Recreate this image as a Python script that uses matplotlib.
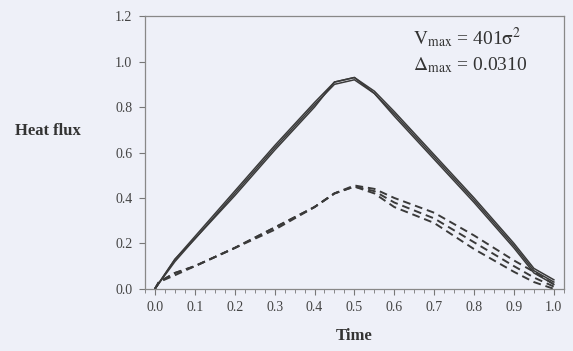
import matplotlib
matplotlib.use("Agg")
import matplotlib.pyplot as plt
from matplotlib.ticker import MultipleLocator, FormatStrFormatter

# time points
t = [0.0, 0.05, 0.1, 0.2, 0.3, 0.4, 0.45, 0.5, 0.55, 0.6, 0.7, 0.8, 0.9, 0.95, 1.0]

# solid curves (three runs, nearly on top of each other)
solid_1 = [0.0, 0.13, 0.23, 0.43, 0.63, 0.82, 0.91, 0.93, 0.87, 0.78, 0.59, 0.40, 0.20, 0.09, 0.04]
solid_2 = [0.0, 0.13, 0.22, 0.42, 0.62, 0.81, 0.90, 0.92, 0.86, 0.77, 0.58, 0.39, 0.19, 0.08, 0.03]
solid_3 = [0.0, 0.12, 0.22, 0.41, 0.61, 0.80, 0.91, 0.93, 0.86, 0.76, 0.57, 0.38, 0.18, 0.07, 0.02]

# dashed curves
t_d = [0.0, 0.01, 0.05, 0.1, 0.2, 0.3, 0.4, 0.45, 0.5, 0.55, 0.6, 0.7, 0.8, 0.9, 0.95, 1.0]
dash_1 = [0.0, 0.03, 0.07, 0.10, 0.18, 0.27, 0.36, 0.42, 0.455, 0.44, 0.40, 0.335, 0.235, 0.125, 0.075, 0.02]
dash_2 = [0.0, 0.03, 0.07, 0.10, 0.18, 0.27, 0.36, 0.42, 0.45, 0.43, 0.38, 0.31, 0.205, 0.10, 0.05, 0.01]
dash_3 = [0.0, 0.03, 0.06, 0.10, 0.18, 0.26, 0.36, 0.42, 0.45, 0.42, 0.36, 0.29, 0.175, 0.075, 0.03, 0.0]

bg = "#eef0f8"
ink = "#3a3a3a"

plt.rcParams["font.family"] = "Liberation Serif"
plt.rcParams["mathtext.fontset"] = "stix"

fig = plt.figure(figsize=(5.73, 3.51), dpi=100)
fig.patch.set_facecolor(bg)
ax = fig.add_axes([0.253, 0.177, 0.731, 0.777])
ax.set_facecolor(bg)

for ys in (solid_1, solid_2, solid_3):
    ax.plot(t, ys, color=ink, lw=1.1)
for ys in (dash_1, dash_2, dash_3):
    ax.plot(t_d, ys, color=ink, lw=1.4, dashes=(4, 2.5))

ax.set_xlim(-0.025, 1.025)
ax.set_ylim(0, 1.2)
ax.xaxis.set_major_locator(MultipleLocator(0.1))
ax.xaxis.set_minor_locator(MultipleLocator(0.025))
ax.yaxis.set_major_locator(MultipleLocator(0.2))
ax.xaxis.set_major_formatter(FormatStrFormatter("%.1f"))
ax.yaxis.set_major_formatter(FormatStrFormatter("%.1f"))
ax.tick_params(axis="both", which="major", direction="out", length=4, width=0.8,
               colors="#777777", labelcolor="#444444", labelsize=10, pad=5)
ax.tick_params(axis="x", which="minor", direction="out", length=3, width=0.6, colors="#777777")

for s in ax.spines.values():
    s.set_color("#888888")
    s.set_linewidth(0.9)

ax.set_xlabel("Time", fontsize=12, fontweight="bold", color="#333333", labelpad=10)
fig.text(0.083, 0.627, "Heat flux", fontsize=12, fontweight="bold", color="#333333",
         ha="center", va="center")

ax.text(0.64, 0.92, r"$\mathrm{V_{max}}$ = 401$\mathrm{\sigma}^2$", transform=ax.transAxes,
        fontsize=14, color="#333333", va="center")
ax.text(0.64, 0.822, r"$\mathrm{\Delta_{max}}$ = 0.0310", transform=ax.transAxes,
        fontsize=14, color="#333333", va="center")

fig.savefig("out.png", dpi=100, facecolor=bg)
